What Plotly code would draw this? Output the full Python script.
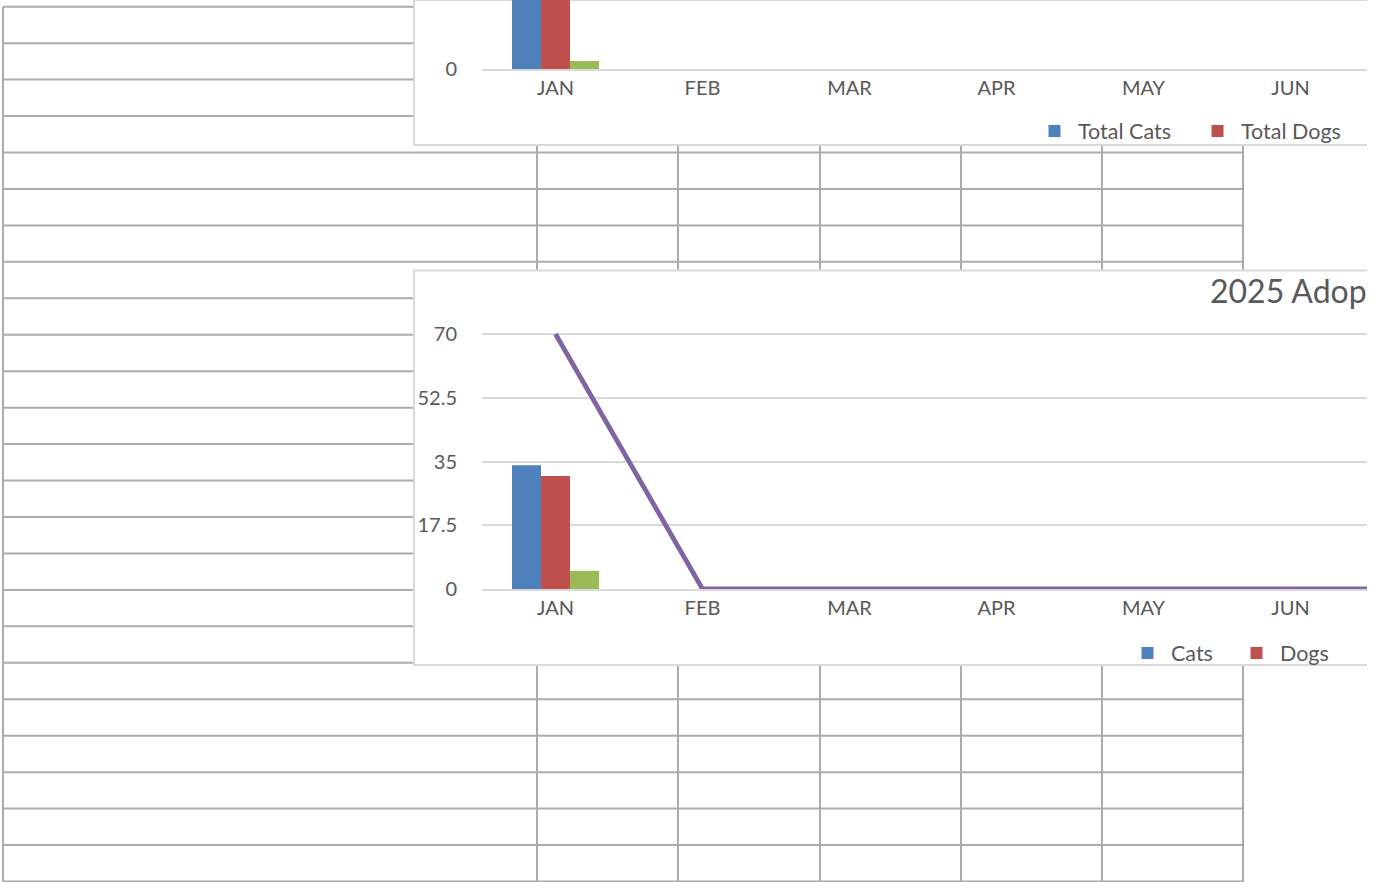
import plotly.graph_objects as go

# ---------------- data ----------------
months = ["JAN", "FEB", "MAR", "APR", "MAY", "JUN", "JUL", "AUG", "SEP", "OCT", "NOV", "DEC"]

# bottom chart (2025 Adoptions)
cats = [34, 0, 0, 0, 0, 0, 0, 0, 0, 0, 0, 0]
dogs = [31, 0, 0, 0, 0, 0, 0, 0, 0, 0, 0, 0]
other = [5, 0, 0, 0, 0, 0, 0, 0, 0, 0, 0, 0]
total = [70, 0, 0, 0, 0, 0, 0, 0, 0, 0, 0, 0]

# top chart (only its lower edge is visible)
total_cats = [120, 0, 0, 0, 0, 0, 0, 0, 0, 0, 0, 0]
total_dogs = [110, 0, 0, 0, 0, 0, 0, 0, 0, 0, 0, 0]
total_other = [10, 0, 0, 0, 0, 0, 0, 0, 0, 0, 0, 0]

top_names = ["Total Cats", "Total Dogs", "Total Other"]
bottom_names = ["Cats", "Dogs", "Other", "Total"]
chart_title = "2025 Adoptions"

# ---------------- styling ----------------
W, H = 1379, 882
BLUE, RED, GREEN, PURPLE = "#4F81BD", "#C0504D", "#9BBB59", "#8064A2"
TXT = "#595959"
GRID = "#d9d9d9"
SHEET = "#ababab"
FONT = "Lato"
VIEW_RIGHT = 1367  # right edge of the visible sheet area


def px(x):
    return min(max(x / W, 0), 1)


def py(y):
    return min(max(1 - y / H, 0), 1)


fig = go.Figure()

colors = [BLUE, RED, GREEN]

# top chart
for i, (name, vals, col) in enumerate(zip(top_names, [total_cats, total_dogs, total_other], colors)):
    fig.add_trace(go.Bar(x=months, y=vals, name=name, marker=dict(color=col, line=dict(width=0)),
                         xaxis="x", yaxis="y", legend="legend", hoverinfo="skip",
                         showlegend=(i < 2)))

# bottom chart
for i, (name, vals, col) in enumerate(zip(bottom_names[:3], [cats, dogs, other], colors)):
    fig.add_trace(go.Bar(x=months, y=vals, name=name, marker=dict(color=col, line=dict(width=0)),
                         xaxis="x2", yaxis="y2", legend="legend2", hoverinfo="skip",
                         showlegend=(i < 2)))
fig.add_trace(go.Scatter(x=months, y=total, name=bottom_names[3], mode="lines",
                         line=dict(color=PURPLE, width=4.8), xaxis="x2", yaxis="y2",
                         legend="legend2", hoverinfo="skip", cliponaxis=False,
                         showlegend=False))

# ---------------- background spreadsheet grid ----------------
shapes = []
row_top, row_h = 6.7, 36.45
for k in range(25):
    y = row_top + row_h * k
    shapes.append(dict(type="line", xref="paper", yref="paper", layer="below",
                       x0=px(3), x1=px(1243), y0=py(y), y1=py(y),
                       line=dict(color=SHEET, width=2)))
for x in [3, 537, 678, 820, 961, 1102, 1243]:
    shapes.append(dict(type="line", xref="paper", yref="paper", layer="below",
                       x0=px(x), x1=px(x), y0=py(row_top), y1=py(H),
                       line=dict(color=SHEET, width=2)))

# chart panels
shapes.append(dict(type="rect", xref="paper", yref="paper", layer="below",
                   x0=px(414), x1=px(W), y0=py(0), y1=py(145),
                   fillcolor="white", line=dict(color=GRID, width=2)))
shapes.append(dict(type="rect", xref="paper", yref="paper", layer="below",
                   x0=px(414), x1=px(W), y0=py(270.5), y1=py(665),
                   fillcolor="white", line=dict(color=GRID, width=2)))
# blank strip at the right edge of the sheet view
shapes.append(dict(type="rect", xref="paper", yref="paper", layer="above",
                   x0=px(VIEW_RIGHT), x1=px(W), y0=py(H), y1=py(0),
                   fillcolor="white", line=dict(width=0)))

cat_w = 147.0
x_range = [-0.5, -0.5 + (W - 482) / cat_w]

xaxis_common = dict(type="category", range=x_range, showgrid=False, zeroline=False,
                    showline=True, linecolor=GRID, linewidth=2, ticks="",
                    tickfont=dict(family=FONT, size=20, color=TXT), fixedrange=True,
                    domain=[px(482), 1], automargin=False)

yaxis_common = dict(ticks="outside", ticklen=20, tickcolor="rgba(0,0,0,0)",
                    tickfont=dict(family=FONT, size=20, color=TXT), fixedrange=True,
                    zeroline=False, showline=False, automargin=False)

top_scale = 0.8  # px per unit in the top chart
fig.update_layout(
    width=W, height=H,
    margin=dict(l=0, r=0, t=0, b=0, pad=0, autoexpand=False),
    paper_bgcolor="white", plot_bgcolor="rgba(0,0,0,0)",
    font=dict(family=FONT, color=TXT),
    barmode="group", bargap=0.408, bargroupgap=0,
    showlegend=True,
    xaxis=dict(**xaxis_common, anchor="y"),
    yaxis=dict(**yaxis_common, anchor="x", domain=[py(69), 1],
               range=[0, 69 / top_scale], dtick=100, showgrid=False),
    xaxis2=dict(**xaxis_common, anchor="y2"),
    yaxis2=dict(**yaxis_common, anchor="x2", domain=[py(589), py(330)],
                range=[0, 70 * (589 - 330) / (589 - 334)], tick0=0, dtick=17.5,
                showgrid=True, gridcolor=GRID, gridwidth=2),
    legend=dict(x=px(1031), y=py(131), xanchor="left", yanchor="middle",
                orientation="h", entrywidth=111, entrywidthmode="pixels", itemwidth=37,
                traceorder="normal", bgcolor="rgba(0,0,0,0)",
                font=dict(family=FONT, size=21.5, color=TXT)),
    legend2=dict(x=px(1124), y=py(653), xanchor="left", yanchor="middle",
                 orientation="h", entrywidth=57, entrywidthmode="pixels", itemwidth=37,
                 traceorder="normal", bgcolor="rgba(0,0,0,0)",
                 font=dict(family=FONT, size=21.5, color=TXT)),
    shapes=shapes,
    annotations=[dict(text=chart_title, xref="paper", yref="paper",
                      x=px(1208), y=py(290), xanchor="left", yanchor="middle",
                      width=VIEW_RIGHT - 1210, align="left",
                      showarrow=False, font=dict(family=FONT, size=32, color=TXT))],
    hovermode=False,
)

fig.write_html("out.html", config={"displayModeBar": False},
               post_script="document.body.style.margin='0';")
